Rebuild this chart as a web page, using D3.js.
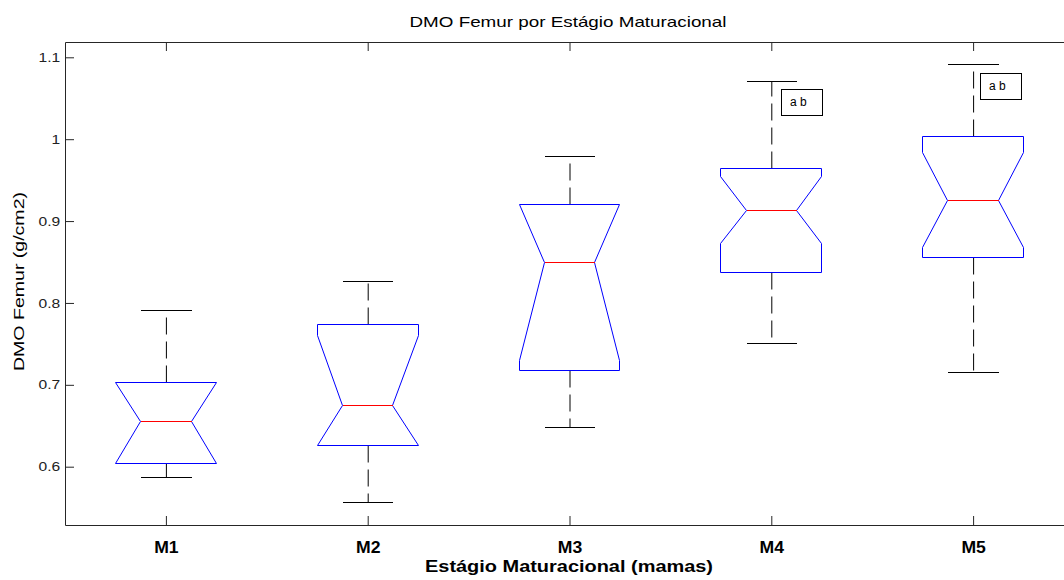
<!DOCTYPE html>
<html><head><meta charset="utf-8">
<script src="https://cdn.jsdelivr.net/npm/d3@7"></script>
<style>body{margin:0;background:#fff}</style>
</head><body><svg id="c" width="1064" height="580" xmlns="http://www.w3.org/2000/svg"></svg>
<script>
// ---- data ----
const categories = ["M1", "M2", "M3", "M4", "M5"];
const whiskerLow  = [0.5874, 0.5565, 0.648, 0.7507, 0.7153];
const q1          = [0.604, 0.6265, 0.718, 0.8369, 0.8557];
const median      = [0.655, 0.6753, 0.849, 0.913, 0.9253];
const q3          = [0.7025, 0.7742, 0.9204, 0.9643, 1.003];
const whiskerHigh = [0.7913, 0.8267, 0.9785, 1.0706, 1.0917];
const notchLow    = [0.604, 0.6265, 0.7303, 0.8728, 0.8674];
const notchHigh   = [0.7025, 0.7608, 0.9204, 0.955, 0.9834];
const yTicks = [0.6, 0.7, 0.8, 0.9, 1.0, 1.1];
const yTickLabels = ["0.6", "0.7", "0.8", "0.9", "1", "1.1"];
const annotPos = [4.094, 5.081];
const annotY = [1.040, 1.060];
const annotLabels = ["a b", "a b"];
const titleText = "DMO Femur por Estágio Maturacional";
const xTitle = "Estágio Maturacional (mamas)";
const yTitle = "DMO Femur (g/cm2)";

// ---- layout ----
const FONT = "'Liberation Sans', Arial, Helvetica, sans-serif";
const svg = d3.select("#c");
svg.append("rect").attr("width", 1064).attr("height", 580).attr("fill", "#fff");

const x = d3.scaleLinear().domain([0.5, categories.length + 0.5]).range([65, 1074]);
const y = d3.scaleLinear().domain([0.5288, 1.1187]).range([525, 42]);
const X = v => Math.floor(x(v)) + 0.5;
const Y = v => Math.floor(y(v)) + 0.5;
const axisColor = "#262626";

// axes
const yAxis = d3.axisLeft(y).tickValues(yTicks).tickFormat((d, i) => yTickLabels[i])
  .tickSizeInner(-9).tickSizeOuter(0).tickPadding(4);
const gy = svg.append("g").attr("transform", "translate(65,0)").call(yAxis);
gy.selectAll("text").attr("transform", "scale(1.2,1)")
  .style("font-family", FONT).style("font-size", "13px").attr("fill", "#222");

const xPositions = categories.map((c, i) => i + 1);
const xAxis = d3.axisBottom(x).tickValues(xPositions).tickFormat((d, i) => categories[i])
  .tickSizeInner(-9).tickSizeOuter(0).tickPadding(17);
const gx = svg.append("g").attr("transform", "translate(0,525)").call(xAxis);
gx.selectAll("text").attr("transform", "scale(1.1,1)")
  .style("font-family", FONT).style("font-size", "16px").style("font-weight", "bold").attr("fill", "#000");

const xTop = d3.axisTop(x).tickValues(xPositions).tickFormat(() => "")
  .tickSizeInner(-9).tickSizeOuter(0);
const gt = svg.append("g").attr("transform", "translate(0,42)").call(xTop);

svg.selectAll(".domain, .tick line").attr("stroke", axisColor);

// boxes
const boxHalf = 0.25, notchHalf = 0.125, capHalf = 0.125;
const plot = svg.append("g");
categories.forEach((c, i) => {
  const p = i + 1;
  const cx = x(p) + 0.5;
  // whiskers (dashed, drawn outward from box)
  plot.append("line").attr("x1", cx).attr("x2", cx)
    .attr("y1", Y(q3[i])).attr("y2", Y(whiskerHigh[i]))
    .attr("stroke", "#000").attr("stroke-width", 1).attr("stroke-dasharray", "17,7");
  plot.append("line").attr("x1", cx).attr("x2", cx)
    .attr("y1", Y(q1[i])).attr("y2", Y(whiskerLow[i]))
    .attr("stroke", "#000").attr("stroke-width", 1).attr("stroke-dasharray", "17,7");
  // caps
  [whiskerHigh[i], whiskerLow[i]].forEach(v => {
    plot.append("line").attr("x1", X(p - capHalf)).attr("x2", X(p + capHalf))
      .attr("y1", Y(v)).attr("y2", Y(v)).attr("stroke", "#000").attr("stroke-width", 1)
      .attr("shape-rendering", "crispEdges");
  });
  // notched box
  const L = X(p - boxHalf), R = X(p + boxHalf), Li = X(p - notchHalf), Ri = X(p + notchHalf);
  const pts = [
    [L, Y(q1[i])], [L, Y(notchLow[i])], [Li, Y(median[i])], [L, Y(notchHigh[i])], [L, Y(q3[i])],
    [R, Y(q3[i])], [R, Y(notchHigh[i])], [Ri, Y(median[i])], [R, Y(notchLow[i])], [R, Y(q1[i])]
  ];
  plot.append("path").attr("d", d3.line()(pts) + "Z")
    .attr("fill", "none").attr("stroke", "#0000ff").attr("stroke-width", 1);
  // median
  plot.append("line").attr("x1", Li).attr("x2", Ri)
    .attr("y1", Y(median[i])).attr("y2", Y(median[i]))
    .attr("stroke", "#ff0000").attr("stroke-width", 1).attr("shape-rendering", "crispEdges");
});

// annotations
annotLabels.forEach((t, i) => {
  const ax = Math.round(x(annotPos[i])), ay = Math.round(y(annotY[i]));
  plot.append("rect").attr("x", ax - 8.5).attr("y", ay - 16.5).attr("width", 41).attr("height", 26)
    .attr("fill", "#fff").attr("stroke", "#000").attr("stroke-width", 1);
  plot.append("text").attr("x", ax).attr("y", ay).text(t)
    .style("font-family", FONT).style("font-size", "12px").attr("fill", "#000");
});

// titles
svg.append("text").attr("x", 568).attr("y", 27).attr("text-anchor", "middle")
  .attr("textLength", 317).attr("lengthAdjust", "spacingAndGlyphs")
  .style("font-family", FONT).style("font-size", "15px").attr("fill", "#000").text(titleText);
svg.append("text").attr("x", 569).attr("y", 572).attr("text-anchor", "middle")
  .attr("textLength", 288).attr("lengthAdjust", "spacingAndGlyphs")
  .style("font-family", FONT).style("font-size", "17px").style("font-weight", "bold")
  .attr("fill", "#000").text(xTitle);
svg.append("text").attr("transform", "translate(24,281.5) rotate(-90)").attr("text-anchor", "middle")
  .attr("textLength", 179).attr("lengthAdjust", "spacingAndGlyphs")
  .style("font-family", FONT).style("font-size", "15px").attr("fill", "#000").text(yTitle);
</script>
</body></html>
